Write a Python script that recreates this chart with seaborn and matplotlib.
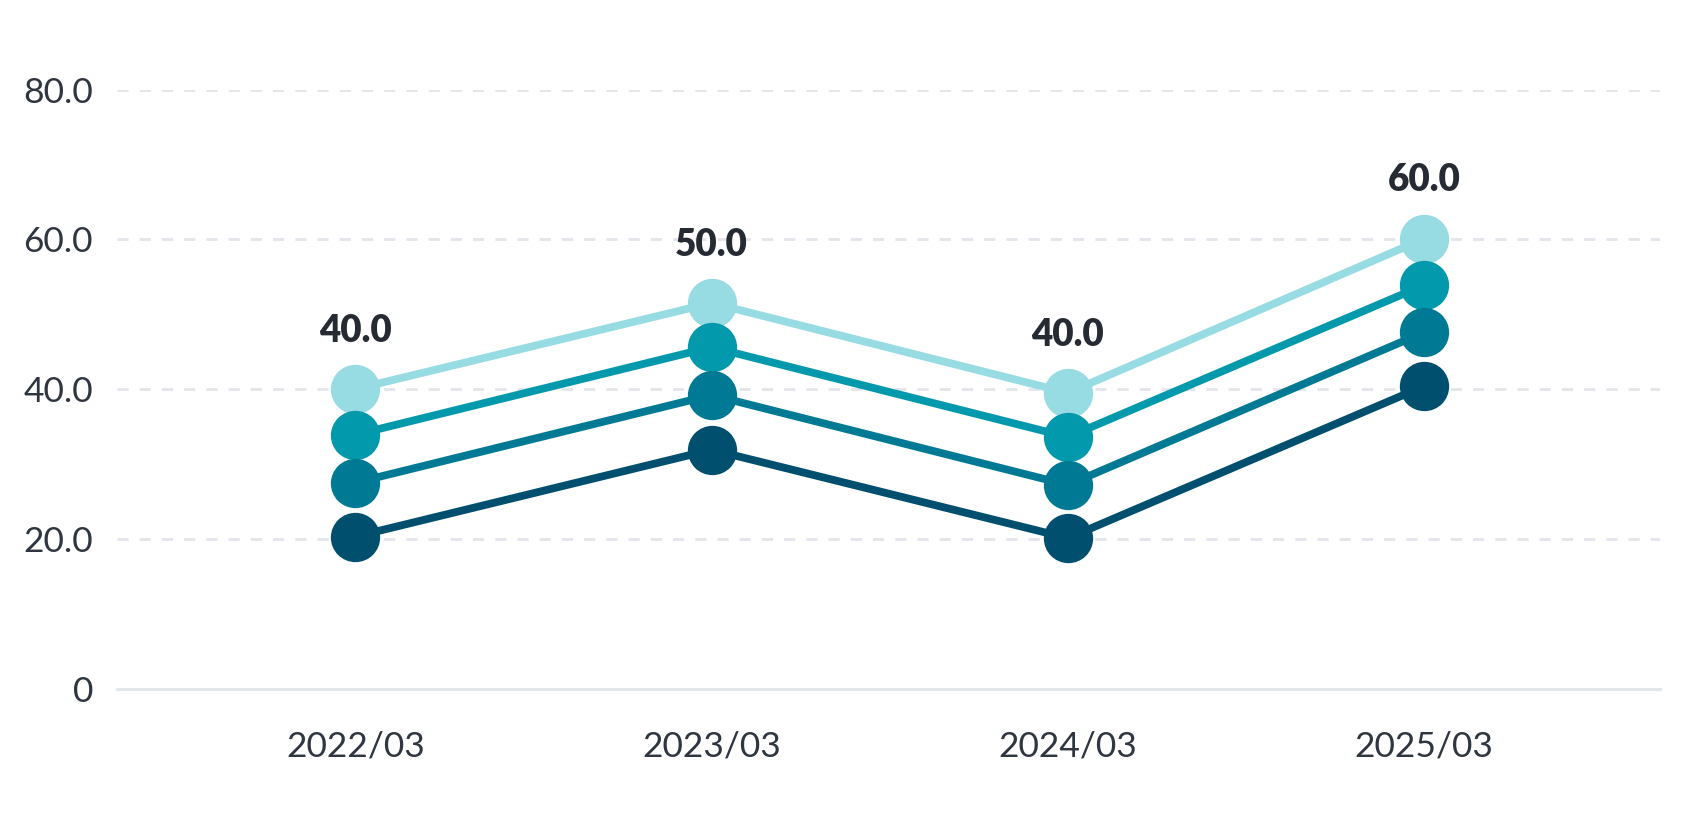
import matplotlib
matplotlib.use("Agg")
import matplotlib.pyplot as plt
import seaborn as sns
import pandas as pd

# ---- data ----
periods = ["2022/03", "2023/03", "2024/03", "2025/03"]
series_names = ["S1", "S2", "S3", "S4"]
s1_values = [40.0, 51.5, 39.5, 60.1]
s2_values = [33.9, 45.6, 33.6, 53.9]
s3_values = [27.5, 39.2, 27.2, 47.6]
s4_values = [20.3, 31.9, 20.1, 40.4]
label_values = [40.0, 50.0, 40.0, 60.0]
y_ticks = [0, 20, 40, 60, 80]

colors = ["#97dbe3", "#0399ad", "#007a94", "#004f6e"]

sns.set_theme(style="white")
plt.rcParams["font.family"] = ["Lato", "DejaVu Sans"]

rows = []
for name, vals in zip(series_names, [s1_values, s2_values, s3_values, s4_values]):
    for p, v in zip(periods, vals):
        rows.append({"period": p, "value": v, "series": name})
df = pd.DataFrame(rows)

fig = plt.figure(figsize=(16.92, 8.4), dpi=100)
ax = fig.add_axes([116.5 / 1692, 1 - 688.6 / 840, (1659.5 - 116.5) / 1692, 599 / 840])

sns.lineplot(data=df, x="period", y="value", hue="series", hue_order=series_names,
             palette=colors, marker="o", markersize=35.5, markeredgewidth=0,
             linewidth=5.6, legend=False, ax=ax, sort=False)

ax.set_xlim(-0.67, 3.66)
ax.set_ylim(0, 80)
ax.set_yticks(y_ticks)
ax.set_yticklabels(["0" if t == 0 else f"{t:.1f}" for t in y_ticks])
ax.set_xlabel("")
ax.set_ylabel("")

for t in y_ticks[1:]:
    ax.axhline(t, color="#e2e5ea", lw=2, ls=(0, (4, 4)), zorder=0)

for s in ["top", "right", "left"]:
    ax.spines[s].set_visible(False)
ax.spines["bottom"].set_color("#e3e6ea")
ax.spines["bottom"].set_linewidth(2.2)

ax.tick_params(axis="y", length=0, pad=17, labelsize=25.5, labelcolor="#2f3640")
ax.tick_params(axis="x", length=0, pad=30, labelsize=25.5, labelcolor="#2f3640")

for i, (lab, v) in enumerate(zip(label_values, s1_values)):
    ax.annotate(f"{lab:.1f}", xy=(i, v), xytext=(0, 42), textcoords="offset points",
                ha="center", va="center", fontsize=26.5, fontweight="heavy", color="#262b33")

fig.savefig("out.png", dpi=100)
